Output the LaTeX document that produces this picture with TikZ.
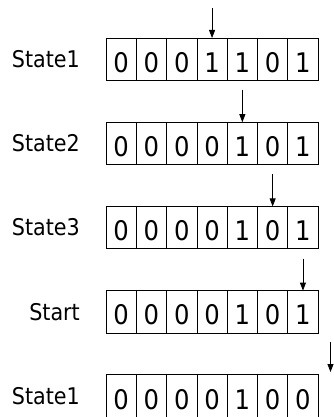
\documentclass[tikz,border=0pt]{standalone}
\usepackage{fontspec}
\setmainfont{DejaVu Sans Condensed}
\usetikzlibrary{arrows.meta,positioning}

\tikzset{
  bit/.style={draw, line width=0.8pt, minimum width=30.3pt, minimum height=42.4pt,
    inner sep=0pt, outer sep=0pt, text height=26pt, text depth=0pt,
    font=\fontsize{27}{27}\selectfont},
  statename/.style={anchor=east, inner sep=0pt, font=\fontsize{23}{23}\selectfont},
  pointer/.style={line width=0.8pt, -{Triangle[width=6pt,length=8pt]}}
}

\begin{document}
\begin{tikzpicture}[x=1pt,y=-1pt]
    \useasboundingbox (0,0) rectangle (334,417);

    % Registers, one row per state
    \foreach \row/\name/\bits in {1/State1/{0,0,0,1,1,0,1},
                                  2/State2/{0,0,0,0,1,0,1},
                                  3/State3/{0,0,0,0,1,0,1},
                                  4/Start/{0,0,0,0,1,0,1},
                                  5/State1/{0,0,0,0,1,0,0}}{
        \node [statename] (name\row) at (80, {59.2+84.2*(\row-1)}) {\name};
        \foreach \b [count=\c] in \bits
            \node [bit] (r\row-\c) at ({106+30.3*(\c-0.5)}, {59.2+84.2*(\row-1)}) {\b};
    }

    % Pointers above the registers
    \draw [pointer] ([yshift=30pt]r1-4.north) -- (r1-4.north);
    \draw [pointer] ([yshift=32pt]r2-5.north) -- (r2-5.north);
    \draw [pointer] ([yshift=32pt]r3-6.north) -- (r3-6.north);
    \draw [pointer] ([yshift=32pt]r4-7.north) -- (r4-7.north);

    % Last pointer runs past the end
    \coordinate (tail) at (330.5, 342);
    \coordinate (head) at (330.5, 372);
    \draw [pointer] (tail) -- (head);
\end{tikzpicture}
\end{document}
